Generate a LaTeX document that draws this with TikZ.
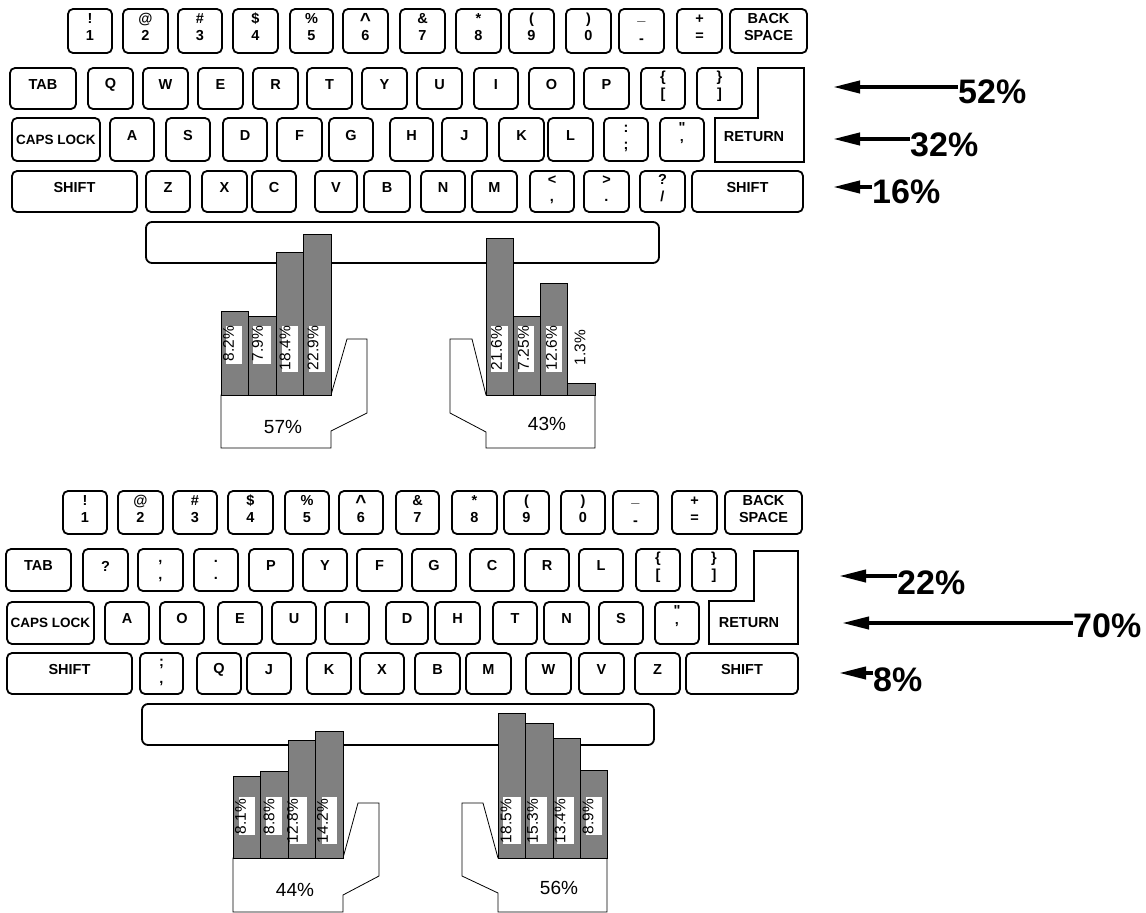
\documentclass[tikz,border=0pt]{standalone}
\usepackage{fontspec}
\setmainfont{Liberation Sans}
\newfontfamily\rawff{Liberation Sans}
\usetikzlibrary{arrows.meta}
\newcommand\kfont{\bfseries\fontsize{14.5}{17}\selectfont}
\newcommand\cfont{\bfseries\fontsize{13.5}{17}\selectfont}
\newcommand\hfont{\fontsize{15.5}{15.5}\selectfont}
\newcommand\pfont{\fontsize{19}{19}\selectfont}
\newcommand\bigfont{\bfseries\fontsize{34}{34}\selectfont}
% single-line key
\newcommand\kb[4]{\node[keyb, minimum width={(#3-#2)*1pt}, minimum height={(\yb-\ya)*1pt}] (#1) at ({(#2+#3)/2},{(\ya+\yb)/2}) {\raisebox{4pt}[\height][\depth]{#4}};}
% centred key
\newcommand\kc[4]{\node[keyb, font=\cfont, minimum width={(#3-#2)*1pt}, minimum height={(\yb-\ya)*1pt}] (#1) at ({(#2+#3)/2},{(\ya+\yb)/2}) {#4};}
% two-line key
\newcommand\kt[5]{\node[keyb, minimum width={(#3-#2)*1pt}, minimum height={(\yb-\ya)*1pt}] (#1) at ({(#2+#3)/2},{(\ya+\yb)/2}) {\raisebox{2pt}[\height][\depth]{\begin{tabular}{@{}c@{}}#4\\\relax #5\end{tabular}}};}
\newcommand\crt{\raisebox{-3pt}[0pt][0pt]{\fontsize{19}{17}\selectfont\textasciicircum}}
\newcommand\und{\raisebox{3pt}{\_}}
\newcommand\hyp{\raisebox{-3pt}{-}}
\newcommand\dq{{\rawff\bfseries "}}
\begin{document}
\begin{tikzpicture}[x=1pt,y=-1pt,
  keyb/.style={draw, line width=1.8pt, rounded corners=5pt, inner sep=0pt, fill=white, font=\kfont},
  retkey/.style={draw, line width=1.8pt, fill=white},
  spacebar/.style={draw, line width=1.8pt, rounded corners=6pt, fill=white},
  palm/.style={draw, line width=0.8pt, fill=white},
  bar/.style={draw, line width=1pt, fill=black!50},
  wbox/.style={fill=white},
  blab/.style={rotate=90, anchor=east, inner sep=0pt, font=\hfont},
  hlab/.style={inner sep=0pt, font=\pfont},
  pct/.style={inner sep=0pt, anchor=west, font=\bigfont},
  arr/.style={line width=4pt, -{Triangle[length=27pt,width=12pt]}}]
\useasboundingbox (0,0) rectangle (1146,913);
\fill[white] (0,0) rectangle (1146,913);

% ================= TOP KEYBOARD (QWERTY) =================
\def\ya{9}\def\yb{53}
\kt{q1}{68}{112}{!}{1}
\kt{q2}{123}{168}{@}{2}
\kt{q3}{178}{222}{\#}{3}
\kt{q4}{233}{278}{\$}{4}
\kt{q5}{290}{333}{\%}{5}
\kt{q6}{343}{388}{\crt}{6}
\kt{q7}{400}{445}{\&}{7}
\kt{q8}{456}{501}{*}{8}
\kt{q9}{509}{554}{(}{9}
\kt{q0}{566}{611}{)}{0}
\kt{qmin}{619}{664}{\und}{\hyp}
\kt{qeq}{677}{722}{+}{=}
\kt{qbs}{730}{807}{BACK}{SPACE}

\def\ya{68}\def\yb{109}
\kb{qtab}{10}{76}{TAB}
\kb{qQ}{88}{133}{Q}
\kb{qW}{143}{188}{W}
\kb{qE}{198}{243}{E}
\kb{qR}{253}{298}{R}
\kb{qT}{307}{352}{T}
\kb{qY}{362}{407}{Y}
\kb{qU}{417}{462}{U}
\kb{qI}{474}{518}{I}
\kb{qO}{529}{574}{O}
\kb{qP}{584}{629}{P}
\kt{qlb}{641}{685}{\{}{[}
\kt{qrb}{697}{742}{\}}{]}
\draw[retkey] (758,68) -- (804,68) -- (804,162) -- (715,162) -- (715,118) -- (758,118) -- cycle;
\node[font=\kfont, inner sep=0pt] (qret) at (754,137) {RETURN};

\def\ya{118}\def\yb{161}
\kc{qcaps}{12}{100}{CAPS LOCK}
\kb{qA}{110}{154}{A}
\kb{qS}{166}{210}{S}
\kb{qD}{223}{267}{D}
\kb{qF}{277}{322}{F}
\kb{qG}{329}{373}{G}
\kb{qH}{390}{433}{H}
\kb{qJ}{442}{487}{J}
\kb{qK}{499}{544}{K}
\kb{qL}{548}{593}{L}
\kt{qcol}{604}{648}{:}{;}
\kt{qquo}{660}{704}{\dq}{'}

\def\ya{171}\def\yb{212}
\kb{qshl}{12}{137}{SHIFT}
\kb{qZ}{146}{190}{Z}
\kb{qX}{202}{247}{X}
\kb{qC}{252}{296}{C}
\kb{qV}{315}{357}{V}
\kb{qB}{364}{410}{B}
\kb{qN}{421}{465}{N}
\kb{qM}{472}{517}{M}
\kt{qlt}{530}{574}{<}{,}
\kt{qgt}{584}{629}{>}{.}
\kt{qsl}{640}{685}{?}{/}
\kb{qshr}{692}{803}{SHIFT}

% percentages per row (top)
\coordinate (t52) at (833,87);
\coordinate (t32) at (833,139);
\coordinate (t16) at (833,187);
\node[pct] (p52) at (958,92) {52\%};
\node[pct] (p32) at (910,145) {32\%};
\node[pct] (p16) at (872,192) {16\%};
\draw[arr] (t52 -| p52.west) -- (t52);
\draw[arr] (t32 -| p32.west) -- (t32);
\draw[arr] (t16 -| p16.west) -- (t16);

% space bar and hands (top)
\draw[spacebar] (146,222) rectangle (659,263);
\draw[palm] (221,395) -- (221,448) -- (331,448) -- (331,431) -- (367,413) -- (367,339) -- (347,339) -- (331,395) -- cycle;
\draw[bar] (221,311) rectangle (248,395);
\draw[bar] (248,316) rectangle (276,395);
\draw[bar] (276,252) rectangle (303,395);
\draw[bar] (303,234) rectangle (331,395);
\fill[wbox] (226,326) rectangle (242,364);
\fill[wbox] (253,326) rectangle (271,364);
\fill[wbox] (282,326) rectangle (298,372);
\fill[wbox] (309,326) rectangle (325,372);
\node[blab] (l1) at (228.5,326) {8.2\%};
\node[blab] (l2) at (257.5,326) {7.9\%};
\node[blab] (l3) at (285,326) {18.4\%};
\node[blab] (l4) at (313,326) {22.9\%};
\node[hlab] (lh) at (283,427) {57\%};

\draw[palm] (595,395) -- (595,448) -- (486,448) -- (486,432) -- (450,413) -- (450,339) -- (472,339) -- (486,395) -- cycle;
\draw[bar] (486,238) rectangle (513,395);
\draw[bar] (513,316) rectangle (540,395);
\draw[bar] (540,283) rectangle (567,395);
\draw[bar] (567,383) rectangle (595,395);
\fill[wbox] (491,326) rectangle (508,372);
\fill[wbox] (518,326) rectangle (534,372);
\fill[wbox] (546,326) rectangle (562,372);
\node[blab] (r1) at (496.5,326) {21.6\%};
\node[blab] (r2) at (523.5,326) {7.25\%};
\node[blab] (r3) at (551.5,326) {12.6\%};
\node[blab] (r4) at (580,330) {1.3\%};
\node[hlab] (rh) at (547,424) {43\%};

% ================= BOTTOM KEYBOARD (DVORAK) =================
\def\ya{491}\def\yb{534}
\kt{d1}{63}{107}{!}{1}
\kt{d2}{118}{163}{@}{2}
\kt{d3}{173}{217}{\#}{3}
\kt{d4}{228}{273}{\$}{4}
\kt{d5}{285}{329}{\%}{5}
\kt{d6}{339}{383}{\crt}{6}
\kt{d7}{396}{439}{\&}{7}
\kt{d8}{452}{497}{*}{8}
\kt{d9}{504}{549}{(}{9}
\kt{d0}{561}{605}{)}{0}
\kt{dmin}{613}{658}{\und}{\hyp}
\kt{deq}{672}{717}{+}{=}
\kt{dbs}{725}{802}{BACK}{SPACE}

\def\ya{549}\def\yb{591}
\kb{dtab}{6}{71}{TAB}
\kb{dqm}{83}{128}{?}
\kt{dcom}{138}{183}{,}{,}
\kt{ddot}{194}{238}{.}{.}
\kb{dP}{249}{293}{P}
\kb{dY}{303}{347}{Y}
\kb{dF}{357}{402}{F}
\kb{dG}{412}{456}{G}
\kb{dC}{470}{514}{C}
\kb{dR}{525}{569}{R}
\kb{dL}{579}{623}{L}
\kt{dlb}{636}{680}{\{}{[}
\kt{drb}{692}{736}{\}}{]}
\draw[retkey] (754,551) -- (798,551) -- (798,644) -- (709,644) -- (709,601) -- (754,601) -- cycle;
\node[font=\kfont, inner sep=0pt] (dret) at (749,623) {RETURN};

\def\ya{602}\def\yb{644}
\kc{dcaps}{7}{94}{CAPS LOCK}
\kb{dA}{105}{149}{A}
\kb{dO}{160}{204}{O}
\kb{dE}{218}{262}{E}
\kb{dU}{272}{316}{U}
\kb{dI}{325}{369}{I}
\kb{dD}{386}{428}{D}
\kb{dH}{435}{480}{H}
\kb{dT}{493}{537}{T}
\kb{dN}{544}{589}{N}
\kb{dS}{599}{643}{S}
\kt{dquo}{655}{699}{\dq}{'}

\def\ya{653}\def\yb{694}
\kb{dshl}{7}{132}{SHIFT}
\kt{dsem}{140}{183}{;}{,}
\kb{dQ}{197}{241}{Q}
\kb{dJ}{247}{291}{J}
\kb{dK}{307}{351}{K}
\kb{dX}{360}{404}{X}
\kb{dB}{415}{460}{B}
\kb{dM}{466}{511}{M}
\kb{dW}{526}{571}{W}
\kb{dV}{579}{624}{V}
\kb{dZ}{635}{680}{Z}
\kb{dshr}{686}{798}{SHIFT}

% percentages per row (bottom)
\coordinate (t22) at (839,576);
\coordinate (t70) at (842,623);
\coordinate (t8) at (839,673);
\node[pct] (p22) at (897,583) {22\%};
\node[pct] (p70) at (1073,626) {70\%};
\node[pct] (p8) at (873,680) {8\%};
\draw[arr] (t22 -| p22.west) -- (t22);
\draw[arr] (t70 -| p70.west) -- (t70);
\draw[arr] (t8 -| p8.west) -- (t8);

% space bar and hands (bottom)
\draw[spacebar] (142,704) rectangle (654,745);
\draw[palm] (233,858) -- (233,912) -- (343,912) -- (343,895) -- (379,876) -- (379,803) -- (358,803) -- (343,858) -- cycle;
\draw[bar] (233,776) rectangle (260,858);
\draw[bar] (260,771) rectangle (288,858);
\draw[bar] (288,740) rectangle (315,858);
\draw[bar] (315,731) rectangle (343,858);
\fill[wbox] (239,797) rectangle (255,835);
\fill[wbox] (266,797) rectangle (282,835);
\fill[wbox] (290,797) rectangle (307,844);
\fill[wbox] (322,797) rectangle (337,844);
\node[blab] (bl1) at (240.5,799) {8.1\%};
\node[blab] (bl2) at (269,799) {8.8\%};
\node[blab] (bl3) at (292.5,799) {12.8\%};
\node[blab] (bl4) at (322.5,799) {14.2\%};
\node[hlab] (blh) at (295,890) {44\%};

\draw[palm] (607,858) -- (607,912) -- (498,912) -- (498,893) -- (462,876) -- (462,803) -- (483,803) -- (498,858) -- cycle;
\draw[bar] (498,713) rectangle (525,858);
\draw[bar] (525,723) rectangle (553,858);
\draw[bar] (553,738) rectangle (580,858);
\draw[bar] (580,770) rectangle (607,858);
\fill[wbox] (503,797) rectangle (521,844);
\fill[wbox] (530,797) rectangle (547,844);
\fill[wbox] (557,797) rectangle (574,844);
\fill[wbox] (586,797) rectangle (602,835);
\node[blab] (br1) at (506,799) {18.5\%};
\node[blab] (br2) at (532.5,799) {15.3\%};
\node[blab] (br3) at (560,799) {13.4\%};
\node[blab] (br4) at (588,799) {8.9\%};
\node[hlab] (brh) at (559,888) {56\%};
\end{tikzpicture}
\end{document}
